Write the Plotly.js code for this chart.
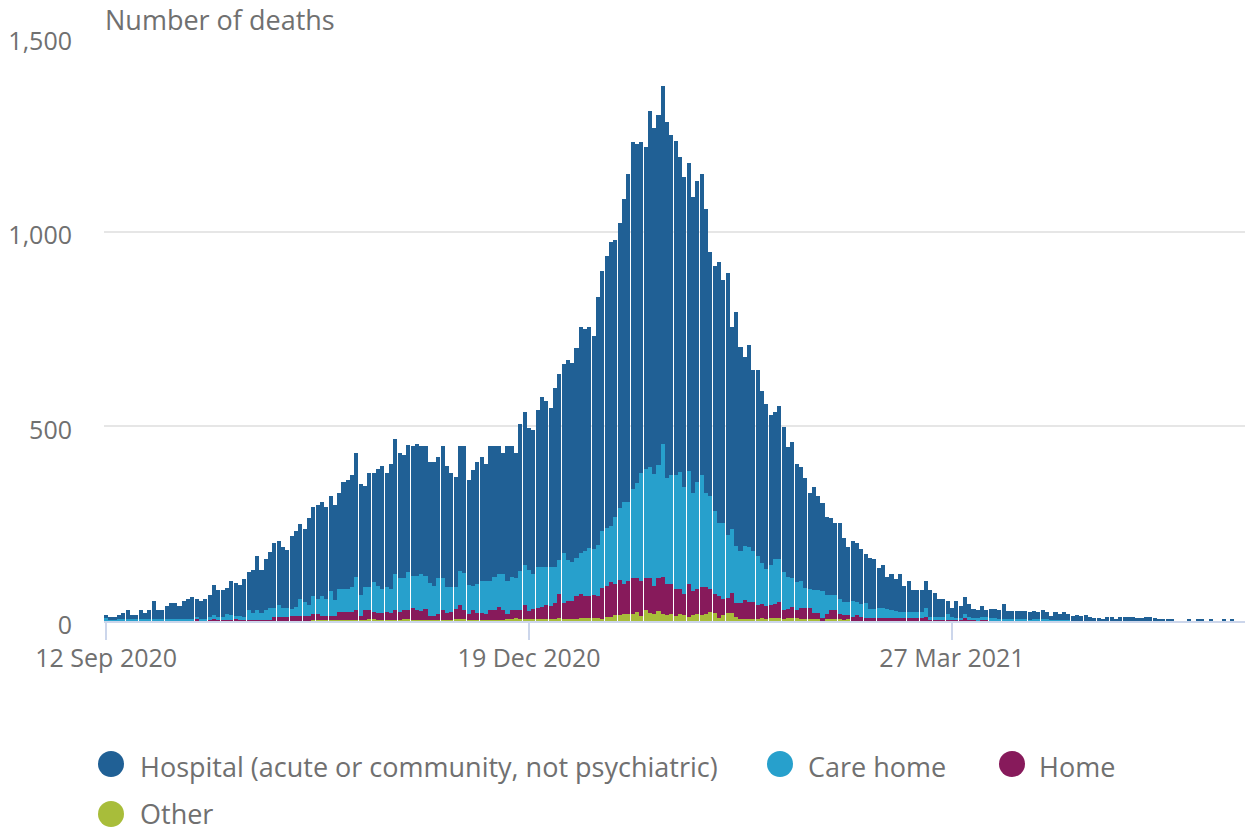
<!DOCTYPE html>
<html>
<head>
<meta charset="utf-8">
<script src="https://cdn.plot.ly/plotly-3.0.1.min.js"></script>
<style>
  html, body { margin: 0; padding: 0; background: #ffffff; }
  #chart { width: 1249px; height: 831px; }
</style>
</head>
<body>
<div id="chart"></div>
<script>
// Daily deaths, 12 Sep 2020 onwards (one value per day)
const startDate = '2020-09-12';

const hospital = [
  7,5,5,10,16,22,11,11,22,16,
  22,46,22,22,34,40,40,34,45,51,
  56,47,46,52,58,77,70,70,69,88,
  83,80,99,99,110,139,110,133,144,167,
  166,155,150,187,197,191,187,223,229,242,
  240,236,245,246,248,275,282,287,318,284,
  258,293,281,301,315,293,322,346,321,316,
  324,334,340,328,334,310,318,310,338,310,
  293,282,321,326,270,296,312,317,300,345,
  335,328,311,345,335,321,379,392,364,368,
  405,437,427,410,460,479,485,513,512,539,
  581,570,569,548,638,669,698,728,711,732,
  779,842,891,869,849,827,914,888,900,919,
  915,874,859,811,796,792,760,772,774,729,
  626,629,670,623,673,518,602,523,486,519,
  463,476,441,424,385,376,393,373,335,349,
  304,293,281,247,266,243,227,198,196,183,
  195,162,139,155,151,141,124,131,130,103,
  110,83,93,83,97,67,80,56,56,56,
  69,69,63,46,46,34,24,44,31,44,
  34,25,20,28,17,23,25,23,39,21,
  22,22,21,22,19,21,18,22,18,11,
  20,17,20,15,12,14,12,14,9,7,
  7,4,9,10,4,10,9,10,9,7,
  7,10,10,8,4,4,4,4,0,0,
  0,4,0,4,4,0,3,0,0,3,
  0,3,0
];

const careHome = [
  7,4,5,4,4,4,4,3,4,4,
  4,4,4,4,4,4,4,4,5,5,
  5,6,4,4,8,11,8,8,15,13,
  10,10,8,25,19,24,18,24,31,24,
  30,24,23,20,23,45,38,30,48,40,
  53,45,65,41,58,59,58,64,87,53,
  61,61,76,70,62,65,62,94,88,84,
  100,81,88,96,85,86,78,94,84,68,
  65,58,88,96,76,64,75,83,87,77,
  87,86,94,87,87,84,99,105,107,92,
  104,102,98,100,93,87,129,105,99,100,
  105,116,122,118,132,145,151,144,173,185,
  210,203,229,245,279,281,286,287,290,343,
  273,280,292,299,275,291,250,274,286,242,
  239,213,189,196,160,164,147,134,139,142,
  131,126,106,94,105,116,110,98,80,76,
  71,69,52,47,58,58,69,51,41,41,
  40,35,35,41,35,33,40,23,23,27,
  26,23,20,19,16,16,16,16,16,16,
  24,7,7,7,7,14,7,4,4,10,
  7,3,5,8,8,6,6,3,4,4,
  3,4,4,4,3,4,4,4,4,2,
  2,2,2,2,1,1,1,1,1,0,
  0,0,1,0,0,0,1,0,1,0,
  0,0,0,0,0,0,0,0,0,0,
  0,0,0,0,0,0,0,0,0,0,
  0,0,0
];

const home = [
  1,1,0,1,1,1,0,1,1,1,
  1,1,1,1,1,1,1,1,1,1,
  1,4,1,1,2,4,2,2,2,2,
  4,2,2,2,2,3,3,3,3,9,
  9,9,9,11,11,11,11,11,15,15,
  10,10,10,10,21,21,21,21,25,12,
  25,23,20,18,18,21,18,25,21,22,
  22,31,24,22,28,10,10,15,25,18,
  21,26,35,22,14,24,18,18,14,24,
  24,32,24,12,22,19,23,34,20,25,
  29,31,35,33,40,61,39,46,46,57,
  60,54,56,57,55,79,79,91,79,89,
  77,85,92,86,90,82,90,72,85,94,
  79,76,70,64,55,84,63,64,72,70,
  60,49,56,42,40,52,35,41,48,43,
  44,38,37,33,33,37,43,22,24,28,
  21,28,30,30,17,17,7,13,23,22,
  12,13,10,9,14,9,6,6,6,6,
  6,6,6,6,6,6,6,6,6,6,
  9,3,3,3,3,3,3,3,3,7,
  3,4,2,2,2,1,1,1,1,1,
  1,0,1,0,0,1,0,1,0,0,
  0,0,0,0,0,0,0,0,0,0,
  0,0,0,0,0,0,0,0,0,0,
  0,0,0,0,0,0,0,0,0,0,
  0,0,0,0,0,0,0,0,0,0,
  0,0,0
];

const other = [
  0,0,0,0,0,0,0,0,0,0,
  0,0,0,0,0,0,0,0,0,0,
  0,0,0,0,0,0,0,0,0,0,
  0,0,0,0,0,0,0,0,0,1,
  1,1,1,1,1,1,1,1,2,2,
  2,2,2,2,2,2,2,2,2,2,
  2,4,4,2,2,2,2,2,2,5,
  5,3,3,3,2,2,2,2,2,2,
  2,4,5,5,3,3,3,3,3,3,
  3,3,3,5,5,8,6,6,5,5,
  5,5,5,5,5,8,6,6,6,6,
  9,9,9,9,8,6,10,10,16,16,
  18,18,18,24,12,28,20,18,25,18,
  15,18,13,19,15,10,15,19,16,18,
  22,21,8,15,20,20,10,5,6,5,
  6,4,7,6,7,7,7,6,8,7,
  7,6,4,4,4,4,1,4,4,5,
  5,2,5,1,1,1,1,1,1,1,
  1,1,1,1,1,1,1,1,1,1,
  1,0,0,0,0,0,0,0,0,0,
  0,0,0,0,0,0,0,0,0,0,
  0,0,0,0,0,0,0,0,0,0,
  0,0,0,0,0,0,0,0,0,0,
  0,0,0,0,0,0,0,0,0,0,
  0,0,0,0,0,0,0,0,0,0,
  0,0,0,0,0,0,0,0,0,0,
  0,0,0
];

const seriesNames = ['Hospital (acute or community, not psychiatric)', 'Care home', 'Home', 'Other'];
const seriesColors = ['#206095', '#27a0cc', '#871a5b', '#a8bd3a'];

const tickDates = ['2020-09-12', '2020-12-19', '2021-03-27'];
const tickLabels = ['12 Sep 2020', '19 Dec 2020', '27 Mar 2021'];
const yTicks = [0, 500, 1000, 1500];

// build daily date categories
const dates = [];
(function () {
  const d0 = new Date(startDate + 'T00:00:00Z');
  for (let i = 0; i < hospital.length; i++) {
    const d = new Date(d0.getTime() + i * 86400000);
    dates.push(d.toISOString().slice(0, 10));
  }
})();

const values = [hospital, careHome, home, other];
const traces = [];
// stack from bottom: Other, Home, Care home, Hospital
for (let k = 3; k >= 0; k--) {
  traces.push({
    type: 'bar',
    name: seriesNames[k],
    x: dates,
    y: values[k],
    marker: { color: seriesColors[k], line: { width: 0 } },
    hoverinfo: 'skip'
  });
}

const W = 1249, H = 831;
const mL = 104, mR = 4, mT = 37, mB = 210;
const plotW = W - mL - mR, plotH = H - mT - mB;
const px2x = px => (px - mL) / plotW;
const py2y = py => (H - mB - py) / plotH;

const textColor = '#707070';
const fontFam = '"Open Sans", "Noto Sans", sans-serif';

// manual legend (circle markers as in the original)
const legendPos = [
  { cx: 111, cy: 764, tx: 139, ty: 766 },
  { cx: 780, cy: 764, tx: 807, ty: 766 },
  { cx: 1012, cy: 764, tx: 1038, ty: 766 },
  { cx: 111, cy: 814, tx: 139, ty: 813 }
];
const shapes = [];
const annotations = [];
for (let k = 0; k < 4; k++) {
  const p = legendPos[k];
  shapes.push({
    type: 'circle', xref: 'paper', yref: 'paper',
    xsizemode: 'pixel', ysizemode: 'pixel',
    xanchor: px2x(p.cx), yanchor: py2y(p.cy),
    x0: -13, x1: 13, y0: -13, y1: 13,
    fillcolor: seriesColors[k], line: { width: 0 }
  });
  annotations.push({
    xref: 'paper', yref: 'paper', x: px2x(p.tx), y: py2y(p.ty),
    xanchor: 'left', yanchor: 'middle', showarrow: false, borderpad: 0,
    text: seriesNames[k], font: { family: fontFam, size: 27, color: textColor }
  });
}
annotations.push({
  xref: 'paper', yref: 'paper', x: px2x(103), y: py2y(20),
  xanchor: 'left', yanchor: 'middle', showarrow: false,
  text: 'Number of deaths', font: { family: fontFam, size: 27, color: textColor }
});

const layout = {
  width: W, height: H,
  margin: { l: mL, r: mR, t: mT, b: mB },
  paper_bgcolor: '#ffffff', plot_bgcolor: '#ffffff',
  barmode: 'stack', bargap: 0.06,
  showlegend: false,
  hovermode: false,
  font: { family: fontFam, color: textColor },
  xaxis: {
    type: 'date',
    range: ['2020-09-11 12:00', '2021-06-02 22:00'],
    tickmode: 'array', tickvals: tickDates, ticktext: tickLabels,
    showgrid: false, zeroline: false,
    showline: true, linecolor: '#ccd6eb', linewidth: 2,
    ticks: 'outside', ticklen: 17, tickwidth: 1.5, tickcolor: '#ccd6eb',
    ticklabelstandoff: -3,
    tickfont: { family: fontFam, size: 25, color: textColor },
    fixedrange: true
  },
  yaxis: {
    range: [0, 1500],
    tickmode: 'array', tickvals: yTicks,
    tickformat: ',d',
    showgrid: true, gridcolor: '#e6e6e6', gridwidth: 1.5,
    zeroline: false, showline: false,
    ticks: 'outside', ticklen: 26, tickcolor: 'rgba(0,0,0,0)',
    ticklabelshift: 4,
    tickfont: { family: fontFam, size: 25, color: textColor },
    fixedrange: true
  },
  shapes: shapes,
  annotations: annotations
};

Plotly.newPlot('chart', traces, layout, { displayModeBar: false, responsive: false });
</script>
</body>
</html>
